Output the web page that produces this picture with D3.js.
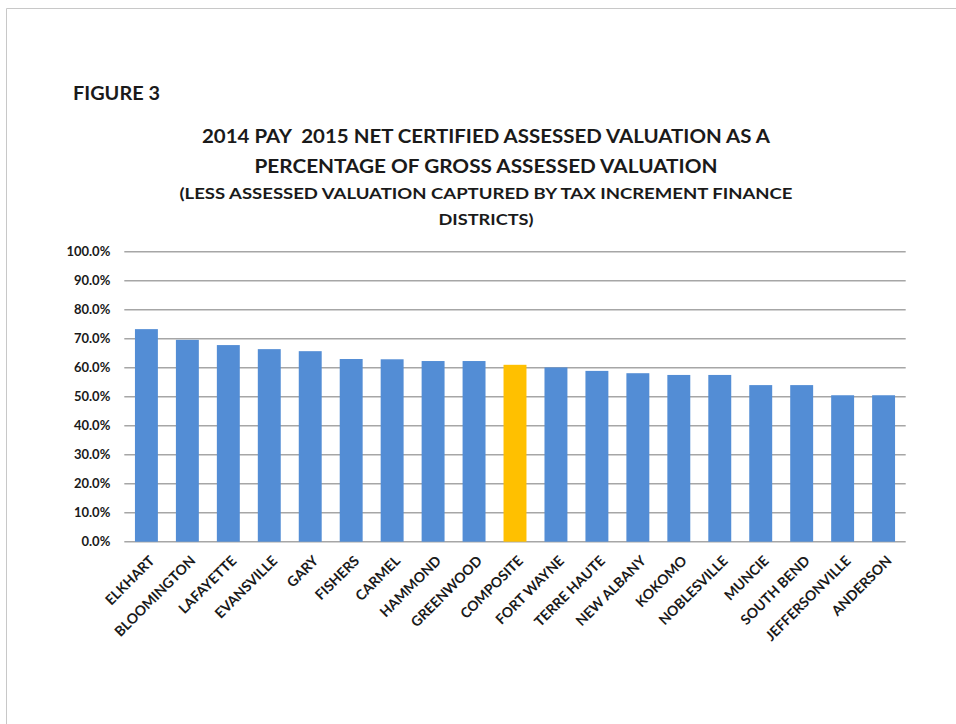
<!DOCTYPE html>
<html>
<head>
<meta charset="utf-8">
<script src="https://cdn.jsdelivr.net/npm/d3@7"></script>
<style>
  body { margin: 0; background: #fff; }
  text { font-family: Lato, "Open Sans", sans-serif; font-weight: bold; fill: #1a1a1a; }
</style>
</head>
<body>
<div id="chart"></div>
<script>
const cities = ["ELKHART", "BLOOMINGTON", "LAFAYETTE", "EVANSVILLE", "GARY", "FISHERS", "CARMEL",
  "HAMMOND", "GREENWOOD", "COMPOSITE", "FORT WAYNE", "TERRE HAUTE", "NEW ALBANY", "KOKOMO",
  "NOBLESVILLE", "MUNCIE", "SOUTH BEND", "JEFFERSONVILLE", "ANDERSON"]
const pctValues = [73.3, 69.6, 67.8, 66.4, 65.7, 63.0, 62.9, 62.3, 62.3, 61.0, 60.1, 58.9, 58.1,
  57.5, 57.5, 54.0, 54.0, 50.5, 50.5]
const yTicks = [0, 10, 20, 30, 40, 50, 60, 70, 80, 90, 100]
const titleLines = ["2014 PAY  2015 NET CERTIFIED ASSESSED VALUATION AS A",
  "PERCENTAGE OF GROSS ASSESSED VALUATION"]
const subtitleLines = ["(LESS ASSESSED VALUATION CAPTURED BY TAX INCREMENT FINANCE", "DISTRICTS)"]

const W = 956, H = 724
const margin = { top: 251.7, right: 50.3, bottom: 182.3, left: 124.3 }
const width = W - margin.left - margin.right
const height = H - margin.top - margin.bottom

const svg = d3.select("#chart").append("svg")
  .attr("width", W)
  .attr("height", H)

// slide frame, only top and left edges show
svg.append("path")
  .attr("d", "M6.5,724 L6.5,8.5 L956,8.5")
  .attr("fill", "none")
  .attr("stroke", "#c8c8c8")
  .attr("stroke-width", 1)

svg.append("text")
  .attr("x", 73).attr("y", 100)
  .attr("font-size", 19)
  .attr("textLength", 87).attr("lengthAdjust", "spacingAndGlyphs")
  .text("FIGURE 3")

// titles
const titleY = [143, 173]
const titleLen = [568, 463]
titleLines.forEach((t, i) => {
  svg.append("text")
    .attr("x", 486).attr("y", titleY[i])
    .attr("text-anchor", "middle")
    .attr("font-size", 19)
    .style("white-space", "pre")
    .attr("textLength", titleLen[i]).attr("lengthAdjust", "spacingAndGlyphs")
    .text(t)
})
const subY = [199, 225]
const subLen = [613, 95]
subtitleLines.forEach((t, i) => {
  svg.append("text")
    .attr("x", 486).attr("y", subY[i])
    .attr("text-anchor", "middle")
    .attr("font-size", 16)
    .attr("textLength", subLen[i]).attr("lengthAdjust", "spacingAndGlyphs")
    .text(t)
})

const g = svg.append("g")
  .attr("transform", "translate(" + margin.left + "," + margin.top + ")")

const x = d3.scaleBand().domain(cities).range([0, width]).paddingInner(0.44).paddingOuter(0.26)
const y = d3.scaleLinear().domain([0, 100]).range([height, 0])

// gridlines
g.append("g")
  .attr("class", "grid")
  .selectAll("line")
  .data(yTicks)
  .join("line")
    .attr("x1", 0).attr("x2", width)
    .attr("y1", d => y(d)).attr("y2", d => y(d))
    .attr("stroke", "#a6a6a6")
    .attr("stroke-width", 1.5)

// y axis labels
const yAxis = g.append("g")
  .call(d3.axisLeft(y).tickValues(yTicks).tickSize(0).tickPadding(14).tickFormat(d => d.toFixed(1) + "%"))
yAxis.select(".domain").remove()
yAxis.selectAll("text")
  .attr("font-size", 13)
  .attr("fill", "#1a1a1a")
  .style("font-family", "Lato, 'Open Sans', sans-serif")
  .style("font-weight", "bold")

// bars
g.selectAll(".bar")
  .data(cities)
  .join("rect")
    .attr("class", "bar")
    .attr("x", d => x(d))
    .attr("width", x.bandwidth())
    .attr("y", (d, i) => y(pctValues[i]))
    .attr("height", (d, i) => height - y(pctValues[i]))
    .attr("fill", d => d === "COMPOSITE" ? "#ffc000" : "#538dd5")

// x axis labels
const xAxis = g.append("g")
  .attr("transform", "translate(0," + height + ")")
  .call(d3.axisBottom(x).tickSize(0).tickPadding(0))
xAxis.select(".domain").remove()
xAxis.selectAll("text")
  .attr("font-size", 14)
  .attr("fill", "#1a1a1a")
  .style("font-family", "Lato, 'Open Sans', sans-serif")
  .style("font-weight", "bold")
  .attr("text-anchor", "end")
  .attr("dy", 0)
  .attr("transform", "translate(9,20) rotate(-45)")
</script>
</body>
</html>
